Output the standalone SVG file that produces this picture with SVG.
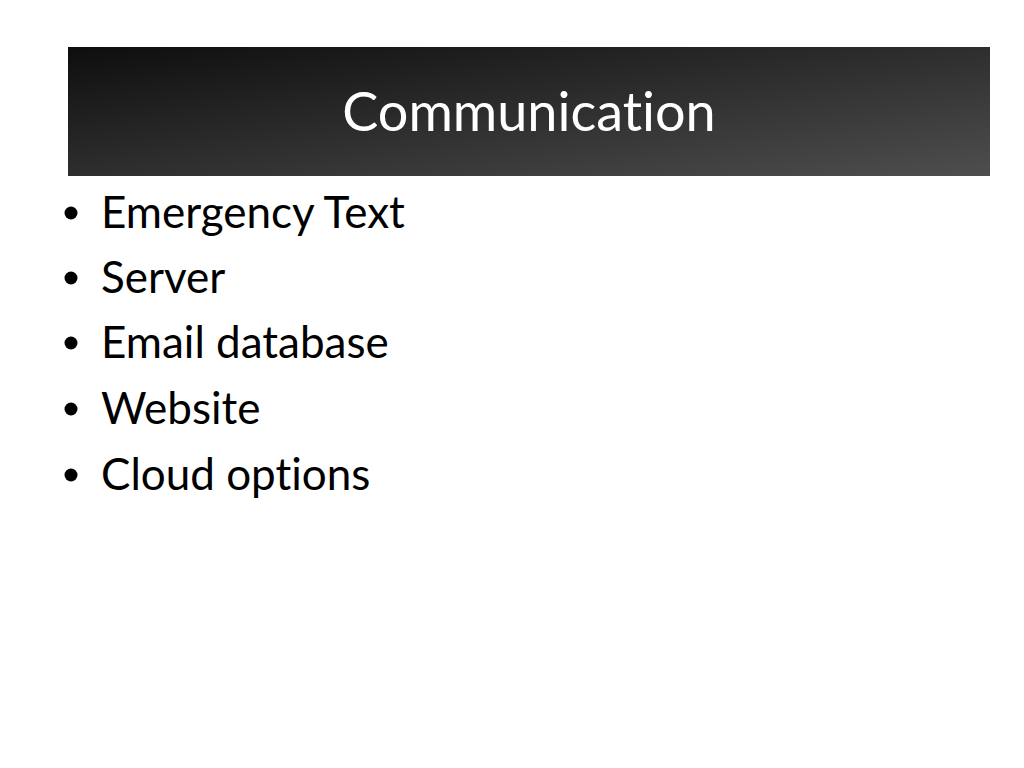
<svg xmlns="http://www.w3.org/2000/svg" width="1024" height="768" viewBox="0 0 1024 768">
<defs>
<linearGradient id="bar" x1="0" y1="0" x2="1" y2="1">
<stop offset="0" stop-color="#0e0e0e"/>
<stop offset="1" stop-color="#4e4e4e"/>
</linearGradient>
<style>
text{font-variant-ligatures:none;font-feature-settings:"liga" 0,"clig" 0}
.t{font-family:Lato,"Open Sans","Liberation Sans",sans-serif;fill:#000}
.h{font-family:Lato,"Open Sans","Liberation Sans",sans-serif;fill:#fff}
</style>
</defs>
<rect width="1024" height="768" fill="#fff"/>
<g id="title">
<rect x="68" y="47" width="922" height="129" fill="url(#bar)"/>
<text class="h" x="529" y="131" font-size="54" text-anchor="middle">Communication</text>
</g>
<g id="bullets" font-size="44">
<circle cx="71" cy="213" r="6.5"/><text class="t" x="101" y="228">Emergency Text</text>
<circle cx="71" cy="278" r="6.5"/><text class="t" x="101" y="293">Server</text>
<circle cx="71" cy="343" r="6.5"/><text class="t" x="101" y="358">Email database</text>
<circle cx="71" cy="409" r="6.5"/><text class="t" x="101" y="424">Website</text>
<circle cx="71" cy="475" r="6.5"/><text class="t" x="101" y="490">Cloud options</text>
</g>
</svg>
